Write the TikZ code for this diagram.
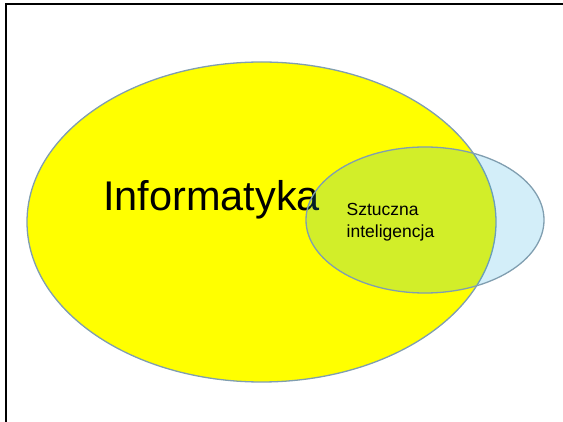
\documentclass[tikz,border=0pt]{standalone}
\usepackage{fontspec}
\setmainfont{Liberation Sans}
\usetikzlibrary{shapes.geometric}
\definecolor{setyellow}{RGB}{255,255,0}
\definecolor{setblue}{RGB}{21,165,223}
\definecolor{setedge}{RGB}{128,158,176}
\tikzset{
  setshape/.style={ellipse, inner sep=0pt, draw=setedge, line width=1.3pt},
  frameline/.style={line width=2.4pt, black}
}
\begin{document}
\begin{tikzpicture}[x=1pt,y=1pt]
  \useasboundingbox (0,0) rectangle (563,-422);
  % frame edges (top and left)
  \coordinate (fr) at (563,-4.3);
  \coordinate (fc) at (6,-4.3);
  \coordinate (fb) at (6,-422);
  \draw[frameline] (fr) -- (fc) -- (fb);
  % computer science set
  \node[setshape, fill=setyellow, minimum width=469pt, minimum height=320pt] (cs) at (261.5,-222) {};
  \node[anchor=base west, inner sep=0pt, font=\fontsize{41.5}{41.5}\selectfont] (cslabel) at (103,-211) {Informatyka};
  % artificial intelligence set
  \node[setshape, fill=setblue, fill opacity=0.19, minimum width=238pt, minimum height=146pt] (ai) at (425,-220) {};
  % base anchor of a two-line node sits on the last line
  \node[anchor=base west, inner sep=0pt, align=left, font=\fontsize{17.5}{22}\selectfont] (ailabel) at (346.5,-238) {Sztuczna\\inteligencja};
\end{tikzpicture}
\end{document}
